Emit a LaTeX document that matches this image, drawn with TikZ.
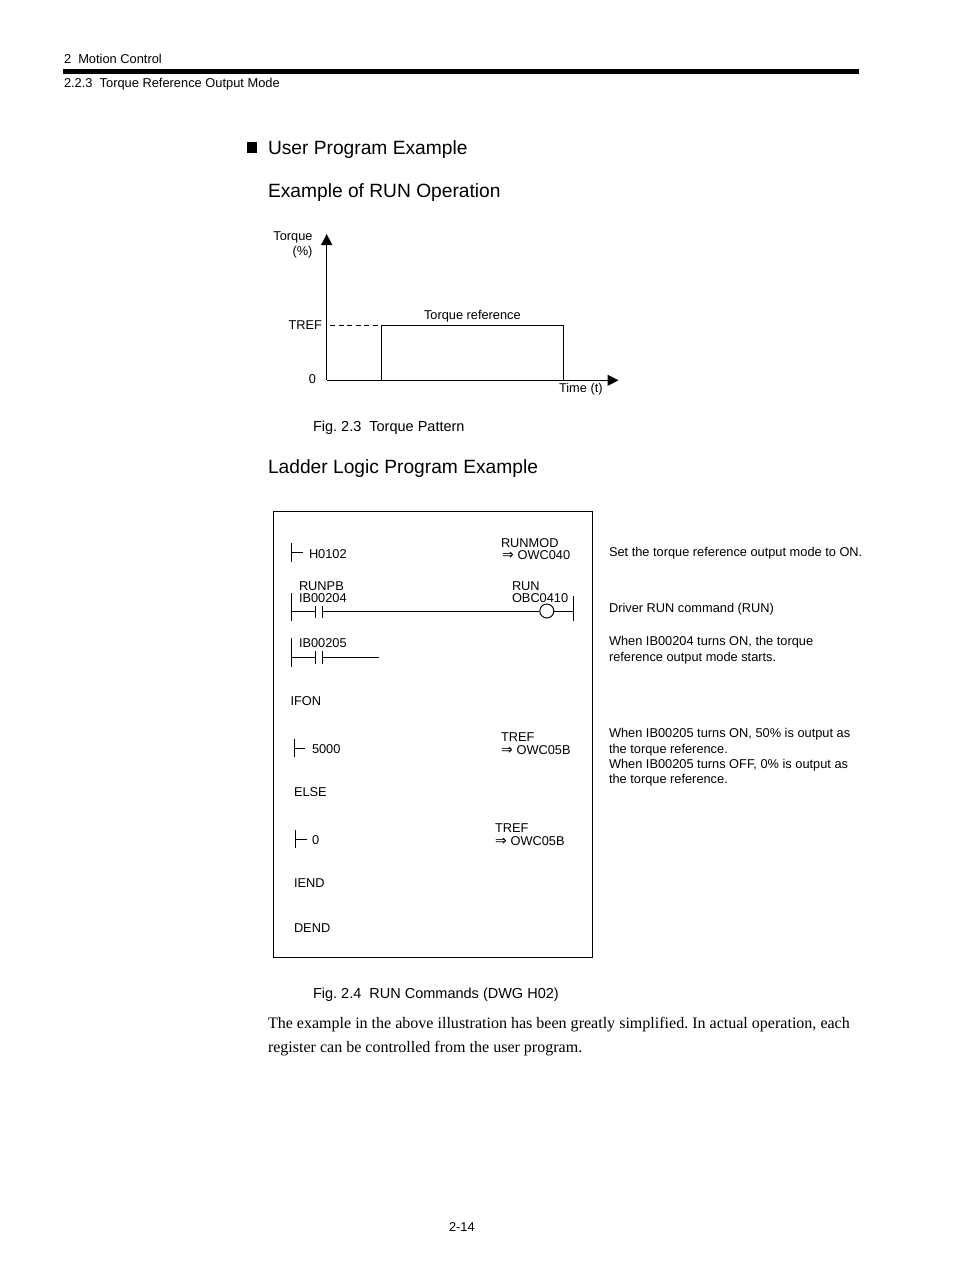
\documentclass[tikz,border=0pt]{standalone}
\usepackage{fontspec}
\setmainfont{Liberation Sans}
\newfontfamily\serifbody{Liberation Serif}
\newfontfamily\symbfont{DejaVu Sans}
\newcommand{\imp}{\makebox[12pt][l]{\symbfont\fontsize{14}{14}\selectfont ⇒}}
\usetikzlibrary{arrows.meta}
\frenchspacing
\tikzset{
  x=1pt,y=-1pt,
  basetxt/.style={anchor=base west,inner sep=0pt,outer sep=0pt},
  smalltxt/.style={basetxt,font=\fontsize{12.8}{13}\selectfont},
  hdrtxt/.style={basetxt,font=\fontsize{12.85}{13}\selectfont},
  figcap/.style={basetxt,font=\fontsize{14.5}{15}\selectfont},
  headtxt/.style={basetxt,font=\fontsize{19.2}{20}\selectfont},
  paratxt/.style={basetxt,font=\serifbody\fontsize{16.03}{16}\selectfont},
  wire/.style={draw=black,line width=1pt},
  axisline/.style={draw=black,line width=1.3pt,-{Triangle[length=11pt,width=11pt]}}
}
\begin{document}
\begin{tikzpicture}
\useasboundingbox (0,0) rectangle (954,1274);
\fill[white] (0,0) rectangle (954,1274);
% page header
\node[hdrtxt] (hA) at (64,63) {2\ \ Motion Control};
\node[hdrtxt] (hB) at (64,87) {2.2.3\ \ Torque Reference Output Mode};
\coordinate (ruleL) at (63,71.5); \coordinate (ruleR) at (859,71.5);
\draw[line width=5pt] (ruleL) -- (ruleR);
% headings
\node[draw=none,fill=black,minimum width=10.5pt,minimum height=10.5pt,inner sep=0pt] (bul) at (252,147.5) {};
\node[headtxt] (h1) at (268,154) {User Program Example};
\node[headtxt] (h2) at (268,197) {Example of RUN Operation};
\node[headtxt] (h3) at (268,473) {Ladder Logic Program Example};
% torque pattern
\coordinate (O) at (326.7,380.3);
\coordinate (Ytip) at (326.7,234);
\coordinate (Xtip) at (618.5,380.3);
\coordinate (A) at (381.7,380.3);
\coordinate (B) at (381.7,325.3);
\coordinate (C) at (563.3,325.3);
\coordinate (D) at (563.3,380.3);
\coordinate (Tq) at (330,325.3);
\draw[axisline] (O) -- (Ytip);
\draw[axisline] (O) -- (Xtip);
\draw[wire] (A) -- (B) -- (C) -- (D);
\draw[wire,dash pattern=on 5pt off 3.5pt] (Tq) -- (B);
\node[smalltxt,anchor=base east] (t1) at (312.5,240) {Torque};
\node[smalltxt,anchor=base east] (t2) at (312.5,255) {(\%)};
\node[smalltxt,anchor=base east] (t3) at (322,329) {TREF};
\node[smalltxt,anchor=base east] (t4) at (316,383) {0};
\node[smalltxt] (t5) at (424,319) {Torque reference};
\node[smalltxt] (t6) at (559,392) {Time (t)};
\node[figcap] (f1) at (313,431) {Fig. 2.3\ \ Torque Pattern};
% ladder box
\node[draw=black,line width=1pt,minimum width=319pt,minimum height=446pt,inner sep=0pt,anchor=north west] (lad) at (273.3,511) {};
% row 1
\coordinate (r1a) at (291.3,543); \coordinate (r1b) at (291.3,562);
\coordinate (r1c) at (291.3,552.7); \coordinate (r1d) at (303,552.7);
\draw[wire] (r1a) -- (r1b); \draw[wire] (r1c) -- (r1d);
\node[smalltxt] (a1) at (309,558) {H0102};
\node[smalltxt] (a2) at (501,547.5) {RUNMOD};
\node[smalltxt] (a3) at (502,559) {\imp\ OWC040};
% row 2
\coordinate (r2a) at (291.3,593); \coordinate (r2b) at (291.3,620.7);
\coordinate (r2c) at (291.3,611.7); \coordinate (r2d) at (315,611.7);
\coordinate (r2e) at (315,606); \coordinate (r2f) at (315,617.7);
\coordinate (r2g) at (322.7,606); \coordinate (r2h) at (322.7,617.7);
\coordinate (r2i) at (322.7,611.7);
\coordinate (r2j) at (573.3,596); \coordinate (r2k) at (573.3,620.5);
\coordinate (r2l) at (573.3,611.7);
\node[draw=black,line width=1pt,circle,minimum size=14pt,inner sep=0pt] (coil) at (546.8,611.0) {};
\draw[wire] (r2a) -- (r2b); \draw[wire] (r2c) -- (r2d);
\draw[wire] (r2e) -- (r2f); \draw[wire] (r2g) -- (r2h);
\draw[wire] (r2i) -- (coil.west |- r2i); \draw[wire] (coil.east |- r2l) -- (r2l);
\draw[wire] (r2j) -- (r2k);
\node[smalltxt] (b1) at (299,590.5) {RUNPB};
\node[smalltxt] (b2) at (299,602) {IB00204};
\node[smalltxt] (b3) at (512,590.5) {RUN};
\node[smalltxt] (b4) at (512,602) {OBC0410};
% row 3
\coordinate (r3a) at (291.3,638); \coordinate (r3b) at (291.3,667);
\coordinate (r3c) at (291.3,657); \coordinate (r3d) at (315,657);
\coordinate (r3e) at (315,651); \coordinate (r3f) at (315,663.5);
\coordinate (r3g) at (322.7,651); \coordinate (r3h) at (322.7,663.5);
\coordinate (r3i) at (322.7,657); \coordinate (r3j) at (378.7,657);
\draw[wire] (r3a) -- (r3b); \draw[wire] (r3c) -- (r3d);
\draw[wire] (r3e) -- (r3f); \draw[wire] (r3g) -- (r3h);
\draw[wire] (r3i) -- (r3j);
\node[smalltxt] (c1) at (299,647.5) {IB00205};
\node[smalltxt] (c2) at (290.5,705) {IFON};
% row 5000
\coordinate (r4a) at (294.3,739); \coordinate (r4b) at (294.3,757);
\coordinate (r4c) at (294.3,748.3); \coordinate (r4d) at (305.3,748.3);
\draw[wire] (r4a) -- (r4b); \draw[wire] (r4c) -- (r4d);
\node[smalltxt] (d1) at (312,753) {5000};
\node[smalltxt] (d2) at (501,741.5) {TREF};
\node[smalltxt] (d3) at (501,754) {\imp\ OWC05B};
\node[smalltxt] (d4) at (294,796) {ELSE};
% row 0
\coordinate (r5a) at (295.3,830); \coordinate (r5b) at (295.3,848);
\coordinate (r5c) at (295.3,839); \coordinate (r5d) at (306.5,839);
\draw[wire] (r5a) -- (r5b); \draw[wire] (r5c) -- (r5d);
\node[smalltxt] (e1) at (312,844) {0};
\node[smalltxt] (e2) at (495,832.5) {TREF};
\node[smalltxt] (e3) at (495,845) {\imp\ OWC05B};
\node[smalltxt] (e4) at (294,887) {IEND};
\node[smalltxt] (e5) at (294,932) {DEND};
% notes
\node[smalltxt] (n1) at (609,556) {Set the torque reference output mode to ON.};
\node[smalltxt] (n2) at (609,612) {Driver RUN command (RUN)};
\node[smalltxt] (n3) at (609,645) {When IB00204 turns ON, the torque};
\node[smalltxt] (n4) at (609,661) {reference output mode starts.};
\node[smalltxt] (n5) at (609,737) {When IB00205 turns ON, 50\% is output as};
\node[smalltxt] (n6) at (609,753) {the torque reference.};
\node[smalltxt] (n7) at (609,768) {When IB00205 turns OFF, 0\% is output as};
\node[smalltxt] (n8) at (609,783) {the torque reference.};
\node[figcap] (f2) at (313,998) {Fig. 2.4\ \ RUN Commands (DWG H02)};
% paragraph
\node[paratxt] (p1) at (268,1028) {The example in the above illustration has been greatly simplified. In actual operation, each};
\node[paratxt] (p2) at (268,1052) {register can be controlled from the user program.};
\node[smalltxt] (pg) at (449,1231) {2-14};
\end{tikzpicture}
\end{document}
